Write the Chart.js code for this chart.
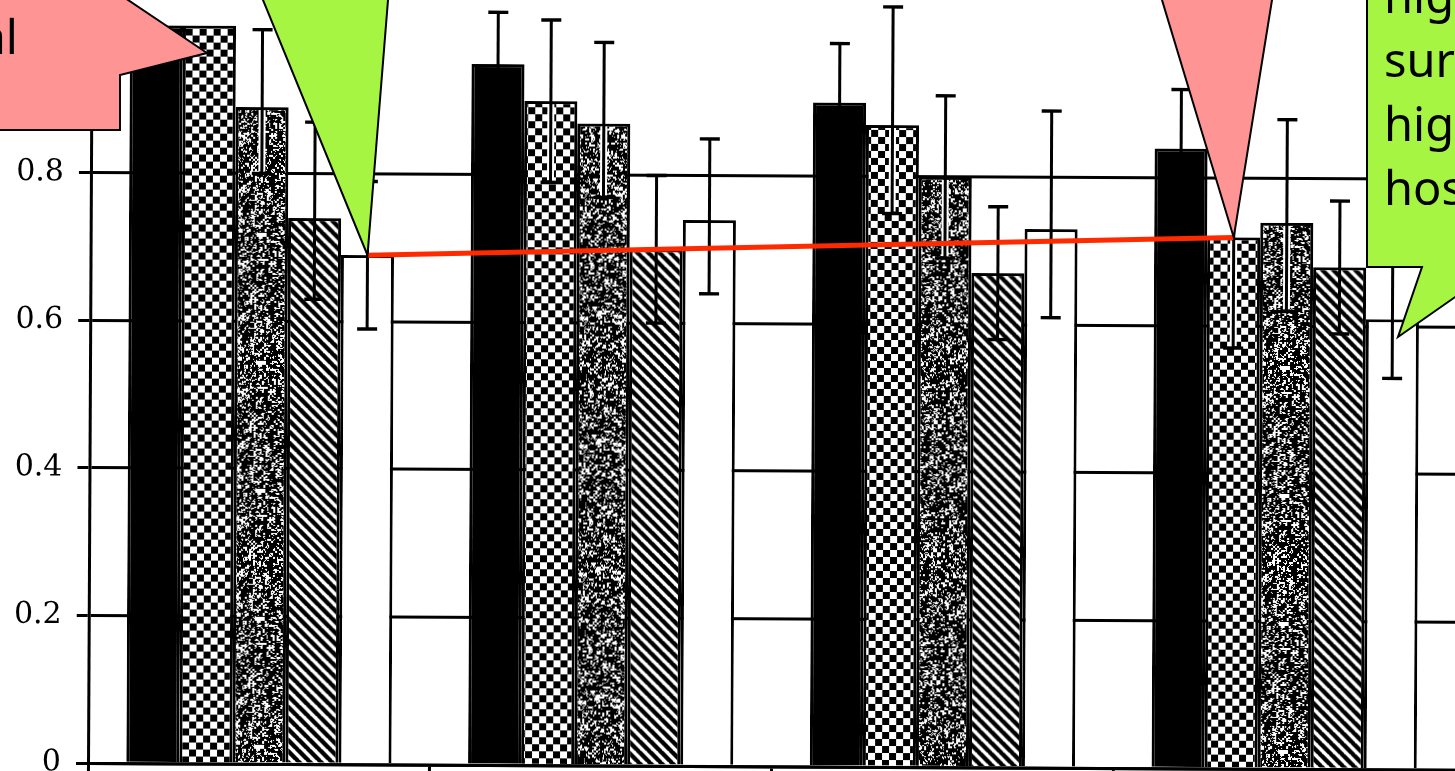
<!DOCTYPE html>
<html>
<head>
<meta charset="utf-8">
<script src="https://cdn.jsdelivr.net/npm/chart.js@4/dist/chart.umd.min.js"></script>
<style>
  html, body { margin: 0; padding: 0; background: #fff; overflow: hidden; }
  canvas { display: block; }
</style>
</head>
<body>
<canvas id="chart" width="1455" height="771"></canvas>
<script>
// ---- data ----------------------------------------------------------------
const categories = ['Group 1', 'Group 2', 'Group 3', 'Group 4'];
const seriesNames = ['Series 1', 'Series 2', 'Series 3', 'Series 4', 'Series 5'];

const solidValues   = [1.00, 0.95, 0.90, 0.84];
const solidErrUp    = [0.00, 0.07, 0.08, 0.08];
const solidErrDown  = [0.00, 0.07, 0.08, 0.08];

const checkValues   = [1.00, 0.90, 0.87, 0.72];
const checkErrUp    = [0.00, 0.11, 0.16, 0.15];
const checkErrDown  = [0.00, 0.11, 0.12, 0.15];

const grainValues   = [0.89, 0.87, 0.80, 0.74];
const grainErrUp    = [0.105, 0.11, 0.11, 0.14];
const grainErrDown  = [0.09, 0.10, 0.11, 0.12];

const hatchValues   = [0.74, 0.70, 0.67, 0.68];
const hatchErrUp    = [0.13, 0.10, 0.09, 0.09];
const hatchErrDown  = [0.11, 0.10, 0.09, 0.09];

const openValues    = [0.69, 0.74, 0.73, 0.61];
const openErrUp     = [0.10, 0.11, 0.16, 0.08];
const openErrDown   = [0.10, 0.10, 0.12, 0.08];

const yTickValues = [0, 0.2, 0.4, 0.6, 0.8, 1.0];

// trend line: from series 5 / group 1 to series 2 / group 4
const trendFrom = { series: 4, index: 0 };
const trendTo   = { series: 1, index: 3 };

// callout text fragments
const leftNoteLines  = ['al'];
const rightNoteLines = ['hig', 'sur', 'hig', 'hos'];

// ---- fill patterns ---------------------------------------------------------
const canvas = document.getElementById('chart');
const ctx = canvas.getContext('2d');

function makeTile(w, h, draw) {
  const c = document.createElement('canvas');
  c.width = w; c.height = h;
  const g = c.getContext('2d');
  draw(g, w, h);
  return c;
}

function hash(x, y) {
  let h = (Math.imul(x, 374761393) + Math.imul(y, 668265263)) | 0;
  h = Math.imul(h ^ (h >>> 13), 1274126177);
  h ^= h >>> 16;
  return (h >>> 0) / 4294967296;
}

const checkerPattern = ctx.createPattern(makeTile(14, 14, g => {
  g.fillStyle = '#fff'; g.fillRect(0, 0, 14, 14);
  g.fillStyle = '#000'; g.fillRect(0, 0, 7, 7); g.fillRect(7, 7, 7, 7);
}), 'repeat');

const grainPattern = ctx.createPattern(makeTile(128, 128, (g, w, h) => {
  const img = g.createImageData(w, h);
  for (let yy = 0; yy < h; yy++) {
    for (let xx = 0; xx < w; xx++) {
      const coarse = hash(xx >> 1, yy >> 1);
      const blob = hash((xx >> 2) + 500, (yy >> 2) + 900);
      const fine = hash(xx + 101, yy + 57);
      const dark = coarse * 0.5 + blob * 0.25 + fine * 0.25 < 0.6;
      const k = (yy * w + xx) * 4;
      const c = dark ? 0 : 255;
      img.data[k] = img.data[k + 1] = img.data[k + 2] = c;
      img.data[k + 3] = 255;
    }
  }
  g.putImageData(img, 0, 0);
}), 'repeat');

const hatchPattern = ctx.createPattern(makeTile(11, 11, g => {
  g.fillStyle = '#fff'; g.fillRect(0, 0, 11, 11);
  g.strokeStyle = '#000'; g.lineWidth = 4.4;
  g.beginPath();
  for (let k = -1; k <= 1; k++) {
    g.moveTo(k * 11 - 1, -1);
    g.lineTo(k * 11 + 12, 12);
  }
  g.stroke();
}), 'repeat');

const seriesList = [
  { values: solidValues, up: solidErrUp, down: solidErrDown, fill: '#000',          halo: false },
  { values: checkValues, up: checkErrUp, down: checkErrDown, fill: checkerPattern,  halo: true  },
  { values: grainValues, up: grainErrUp, down: grainErrDown, fill: grainPattern,    halo: true  },
  { values: hatchValues, up: hatchErrUp, down: hatchErrDown, fill: hatchPattern,    halo: false },
  { values: openValues,  up: openErrUp,  down: openErrDown,  fill: '#fff',          halo: false }
];

// ---- plugins -------------------------------------------------------------
const TILT = 0.005;   // the printed figure sits slightly askew

function tiltPoint(chart, x, y) {
  const px = chart.chartArea.left, py = chart.chartArea.bottom;
  const dx = x - px, dy = y - py;
  return [px + dx * Math.cos(TILT) - dy * Math.sin(TILT),
          py + dx * Math.sin(TILT) + dy * Math.cos(TILT)];
}

function seg(c, x1, y1, x2, y2) {
  c.beginPath(); c.moveTo(x1, y1); c.lineTo(x2, y2); c.stroke();
}

function shape(c, pts, fill) {
  c.beginPath();
  pts.forEach((p, i) => i ? c.lineTo(p[0], p[1]) : c.moveTo(p[0], p[1]));
  c.closePath();
  c.fillStyle = fill; c.fill();
  c.lineWidth = 2; c.strokeStyle = '#000'; c.lineJoin = 'miter'; c.stroke();
}

function wedge(tip, a, b) {
  const ext = p => [tip[0] + (p[0] - tip[0]) * 1.15, tip[1] + (p[1] - tip[1]) * 1.15];
  return [ext(a), ext(b), tip];
}

const figurePlugin = {
  id: 'figure',
  beforeDraw(chart) {
    const c = chart.ctx, a = chart.chartArea;
    c.save();
    c.translate(a.left, a.bottom);
    c.rotate(TILT);
    c.translate(-a.left, -a.bottom);
  },
  afterDatasetsDraw(chart) {
    const c = chart.ctx, yScale = chart.scales.y;
    c.save();
    c.lineCap = 'butt';
    seriesList.forEach((s, i) => {
      chart.getDatasetMeta(i).data.forEach((bar, j) => {
        const up = s.up[j], down = s.down[j];
        if (!up && !down) return;
        const v = s.values[j];
        const yTop = yScale.getPixelForValue(v + up);
        const yBot = yScale.getPixelForValue(v - down);
        const x = bar.x;
        if (s.halo) {
          c.strokeStyle = '#fff'; c.lineWidth = 7;
          seg(c, x, bar.y + 3, x, yBot - 2);
        }
        c.strokeStyle = '#000'; c.lineWidth = 3;
        seg(c, x, yTop, x, yBot);
        c.lineWidth = 3.4;
        seg(c, x - 10, yTop, x + 10, yTop);
        seg(c, x - 10, yBot, x + 10, yBot);
      });
    });
    // trend line between two bar tops
    const p1 = chart.getDatasetMeta(trendFrom.series).data[trendFrom.index];
    const p2 = chart.getDatasetMeta(trendTo.series).data[trendTo.index];
    c.strokeStyle = '#ff2a00'; c.lineWidth = 5;
    seg(c, p1.x, p1.y, p2.x, p2.y);
    c.restore();
  },
  afterDraw(chart) {
    const c = chart.ctx;
    c.restore();
    c.save();
    const pink = '#ff9494', green = '#a6f543';

    // left arrow callout
    shape(c, [[-60, 130], [120, 130], [120, 75], [207, 53], [128, 0], [98, -20], [-60, -20]], pink);

    // wedge pointing at the first trend end
    const b1 = chart.getDatasetMeta(trendFrom.series).data[trendFrom.index];
    const t1 = tiltPoint(chart, b1.x, b1.y);
    shape(c, wedge(t1, [263, 0], [388, 0]), green);

    // wedge pointing at the second trend end
    const b2 = chart.getDatasetMeta(trendTo.series).data[trendTo.index];
    const t2 = tiltPoint(chart, b2.x, b2.y);
    shape(c, wedge(t2, [1162, 0], [1272, 0]), pink);

    // right box callout
    shape(c, [[1367, -20], [1530, -20], [1530, 267], [1498, 267], [1398, 337], [1422, 267], [1367, 267]], green);

    c.fillStyle = '#000';
    c.font = '47px "Noto Sans"';
    c.textBaseline = 'alphabetic';
    c.textAlign = 'right';
    leftNoteLines.forEach((t, i) => c.fillText(t, 18, 54 + i * 64));
    c.textAlign = 'left';
    rightNoteLines.forEach((t, i) => c.fillText(t, 1384, 13 + i * 64));
    c.restore();
  }
};

// ---- chart ---------------------------------------------------------------
const isStep = v => yTickValues.some(t => Math.abs(t - v) < 1e-6);

new Chart(ctx, {
  type: 'bar',
  data: {
    labels: categories,
    datasets: seriesList.map((s, i) => ({
      label: seriesNames[i],
      data: s.values,
      backgroundColor: s.fill,
      borderColor: '#000',
      borderWidth: 3,
      categoryPercentage: 0.776,
      barPercentage: 1.0
    }))
  },
  options: {
    responsive: false,
    animation: false,
    devicePixelRatio: 1,
    layout: { padding: 0 },
    plugins: { legend: { display: false }, tooltip: { enabled: false } },
    events: [],
    scales: {
      x: {
        offset: true,
        ticks: { display: false },
        grid: { offset: true, drawOnChartArea: false, drawTicks: true, tickLength: 8, color: '#000', lineWidth: 3 },
        border: { display: true, color: '#000', width: 3 },
        afterFit(s) { s.height = 8; s.paddingLeft = 0; s.paddingRight = 0; }
      },
      y: {
        min: 0,
        max: 1.034,
        ticks: {
          stepSize: 0.2,
          padding: 15,
          color: '#000',
          font: { family: '"DejaVu Serif"', size: 30 },
          callback: v => (Math.abs(v) < 1e-9 ? '0' : v.toFixed(1))
        },
        afterBuildTicks(s) { s.ticks = s.ticks.filter(t => isStep(t.value)); },
        grid: { color: '#000', lineWidth: 3, tickLength: 12 },
        border: { display: true, color: '#000', width: 3 },
        afterFit(s) { s.width = 88; s.paddingTop = 0; s.paddingBottom = 0; }
      }
    }
  },
  plugins: [figurePlugin]
});
</script>
</body>
</html>
